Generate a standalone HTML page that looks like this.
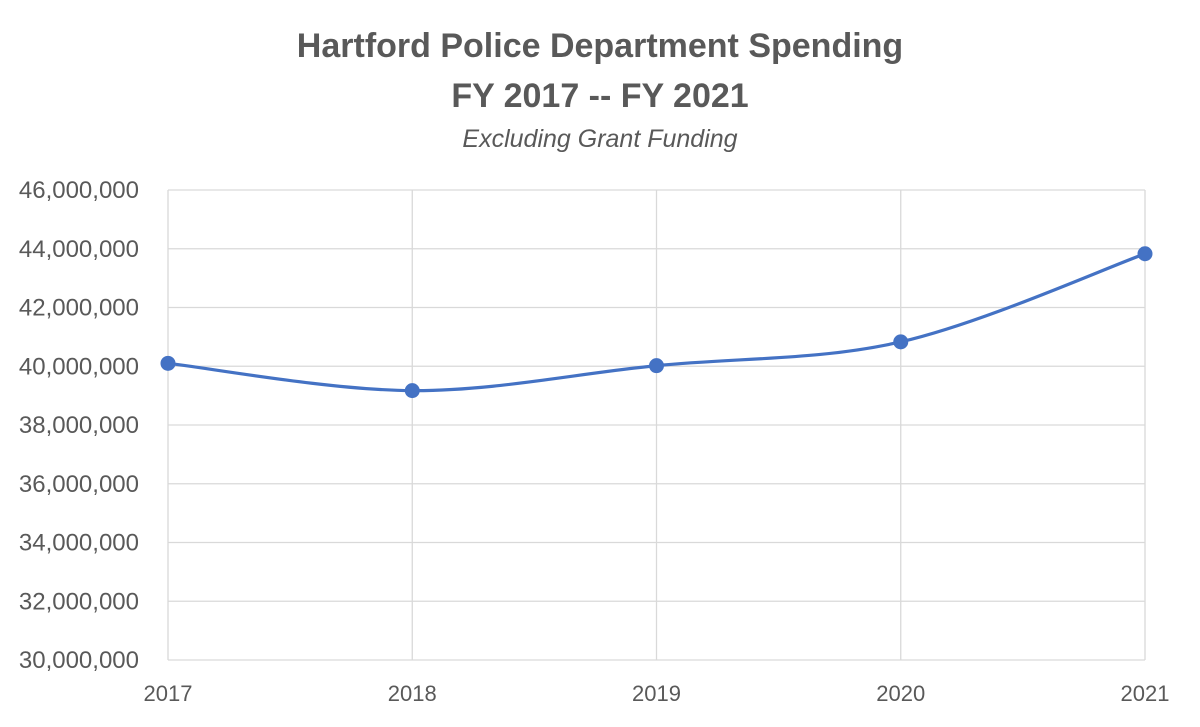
<!DOCTYPE html>
<html><head><meta charset="utf-8"><style>
body{margin:0;background:#fff;}
svg text{font-family:"Liberation Sans",sans-serif;fill:#595959;}
</style></head><body>
<svg id="chart" width="1200" height="722">
<text x="600" y="57" text-anchor="middle" font-size="34" font-weight="bold">Hartford Police Department Spending</text>
<text x="600" y="107" text-anchor="middle" font-size="34" font-weight="bold">FY 2017 -- FY 2021</text>
<text x="600" y="147" text-anchor="middle" font-size="25" font-style="italic">Excluding Grant Funding</text>
<g id="grid"></g><g id="ylab"></g><g id="xlab"></g><g id="series"></g>
</svg>
<script>
const categories=["2017","2018","2019","2020","2021"];
const values=[40100000,39170000,40020000,40830000,43830000];
const yTicks=[30000000,32000000,34000000,36000000,38000000,40000000,42000000,44000000,46000000];
const NS="http://www.w3.org/2000/svg";
const X0=168,X1=1145,Y0=660,Y1=190,YMIN=30000000,YMAX=46000000;
function xs(i){return X0+i*(X1-X0)/(categories.length-1);}
function ys(v){return Y0-(v-YMIN)/(YMAX-YMIN)*(Y0-Y1);}
function mk(t,a,p){const e=document.createElementNS(NS,t);for(const k in a)e.setAttribute(k,a[k]);p.appendChild(e);return e;}
const g=document.getElementById('grid'),yl=document.getElementById('ylab'),xl=document.getElementById('xlab'),s=document.getElementById('series');
yTicks.forEach(v=>{const l=mk('line',{x1:X0,x2:X1,y1:ys(v),y2:ys(v),stroke:'#d9d9d9','stroke-width':1.3},g);


const t=mk('text',{x:139,y:ys(v)+8,'text-anchor':'end','font-size':24},yl);t.textContent=v.toLocaleString('en-US');

});
categories.forEach((c,i)=>{const l=mk('line',{x1:xs(i),x2:xs(i),y1:Y1,y2:Y0,stroke:'#d9d9d9','stroke-width':1.3},g);


const t=mk('text',{x:xs(i),y:701,'text-anchor':'middle','font-size':22},xl);t.textContent=c;

});
const P=values.map((v,i)=>[xs(i),ys(v)]);
let d='M'+P[0][0]+','+P[0][1];
for(let i=0;i<P.length-1;i++){const p0=P[Math.max(0,i-1)],p1=P[i],p2=P[i+1],p3=P[Math.min(P.length-1,i+2)];
d+=' C'+(p1[0]+(p2[0]-p0[0])/6)+','+(p1[1]+(p2[1]-p0[1])/6)+' '+(p2[0]-(p3[0]-p1[0])/6)+','+(p2[1]-(p3[1]-p1[1])/6)+' '+p2[0]+','+p2[1];}
const path=mk('path',{d:d,fill:'none',stroke:'#4472C4','stroke-width':3.2},s);


P.forEach(p=>{const c=mk('circle',{cx:p[0],cy:p[1],r:7.5,fill:'#4472C4'},s);

});
</script>
</body></html>
